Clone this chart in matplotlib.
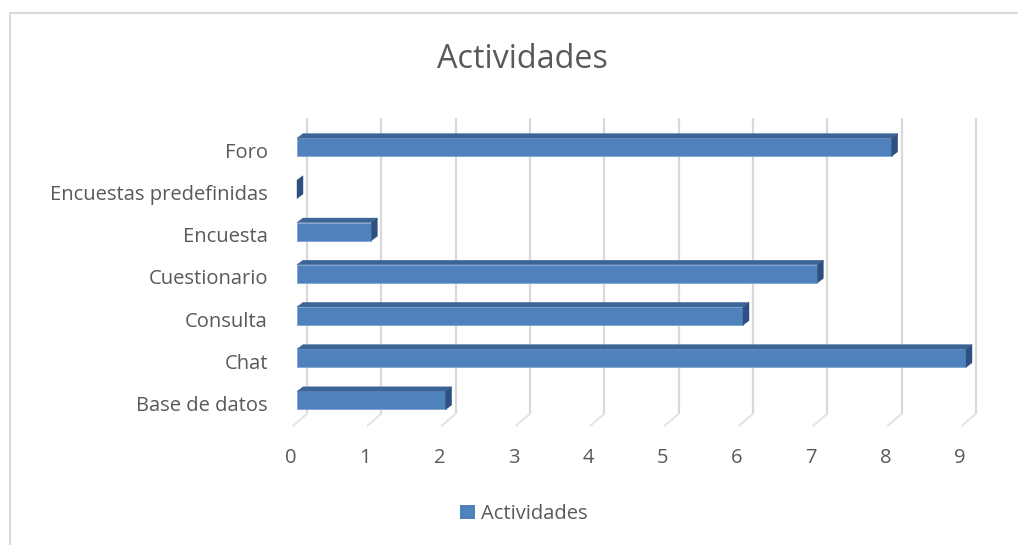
import matplotlib
matplotlib.use("Agg")
import matplotlib.pyplot as plt
from matplotlib.transforms import ScaledTranslation
from matplotlib.patches import Polygon, Patch, ConnectionPatch
from matplotlib.lines import Line2D

# ---- data ----
categories = ["Base de datos", "Chat", "Consulta", "Cuestionario",
              "Encuesta", "Encuestas predefinidas", "Foro"]
values = [2, 9, 6, 7, 1, 0, 8]
xticks = list(range(10))
series_name = "Actividades"
chart_title = "Actividades"

# ---- style ----
FONT = ["Open Sans", "DejaVu Sans"]
plt.rcParams['font.family'] = FONT
TXT = "#595959"
GRID = "#d9d9d9"
FRONT = "#4f81bd"
TOP = "#3c6496"
SIDE = "#2d5080"
FS = 14.5

W, H = 1018, 545
fig = plt.figure(figsize=(W / 100, H / 100), dpi=100)

# axes placed in pixels (left, top, width, height)
ax_l, ax_t, ax_w, ax_h = 297, 105, 669, 337.6
ax = fig.add_axes([ax_l / W, 1 - (ax_t + ax_h) / H, ax_w / W, ax_h / H])
ax.set_xlim(0, 9)
ax.set_ylim(-1, 7)
for s in ax.spines.values():
    s.set_visible(False)
ax.patch.set_alpha(0)

ppx = ax_w / 9.0
ppy = ax_h / 8.0


def off(dx, dy):
    return ax.transData + ScaledTranslation(dx / 100, dy / 100, fig.dpi_scale_trans)


front_plane = off(-4, 0)
back_plane = off(10, 12)
floor_y = -0.6
wall_top = 6.4

# gridlines (back wall) and floor diagonals
for v in xticks:
    ax.plot([v, v], [floor_y, wall_top], color=GRID, lw=1.6,
            transform=back_plane, solid_capstyle='butt', zorder=1, clip_on=False)
    cp = ConnectionPatch(xyA=(v, floor_y), coordsA=front_plane,
                         xyB=(v, floor_y), coordsB=back_plane,
                         color="#e3e3e3", lw=1.4, zorder=1, clip_on=False)
    ax.add_artist(cp)

# bars
ypos = list(range(len(categories)))
bh = 0.43
ddx = 6 / ppx
ddy = 4.5 / ppy
bars = ax.barh(ypos, values, height=bh, left=0, color=FRONT,
               edgecolor="#7ea3d3", linewidth=0.6, zorder=3)
for b in bars:
    b.set_clip_on(False)
for y, v in zip(ypos, values):
    yb, yt = y - bh / 2, y + bh / 2
    top = Polygon([(0, yt), (v, yt), (v + ddx, yt + ddy), (ddx, yt + ddy)],
                  closed=True, facecolor=TOP, edgecolor=TOP, lw=0.3, zorder=3,
                  clip_on=False)
    side = Polygon([(v, yb), (v, yt), (v + ddx, yt + ddy), (v + ddx, yb + ddy)],
                   closed=True, facecolor=SIDE, edgecolor=SIDE, lw=0.3, zorder=3,
                   clip_on=False)
    ax.add_patch(top)
    ax.add_patch(side)

# y tick labels
ax.set_yticks(ypos)
ax.set_yticklabels(categories, fontsize=FS, color=TXT)
ax.tick_params(axis='y', length=0, pad=21)
for lab in ax.get_yticklabels():
    lab.set_transform(lab.get_transform() +
                      ScaledTranslation(0, -3 / 100, fig.dpi_scale_trans))

# x tick labels
ax.set_xticks(xticks)
ax.set_xticklabels([str(t) for t in xticks], fontsize=FS, color=TXT)
ax.tick_params(axis='x', length=0, pad=4)
for lab in ax.get_xticklabels():
    lab.set_transform(lab.get_transform() +
                      ScaledTranslation(-6 / 100, 0, fig.dpi_scale_trans))

# title
fig.text(522 / W, 1 - 60 / H, chart_title, ha='center', va='center',
         fontsize=23.3, color=TXT)

# legend
fig.legend(handles=[Patch(facecolor=FRONT, edgecolor='none')], labels=[series_name],
           loc='center', bbox_to_anchor=(524 / W, 1 - 514 / H), frameon=False,
           fontsize=FS, labelcolor=TXT, handlelength=0.75, handleheight=0.75,
           handletextpad=0.3)

# outer border (left and top only visible)
fig.add_artist(Line2D([10 / W, 10 / W, 1.05], [-0.05, 1 - 12.5 / H, 1 - 12.5 / H],
                      transform=fig.transFigure, color=GRID, lw=1.5))

fig.savefig("out.png", dpi=100, facecolor="white")
